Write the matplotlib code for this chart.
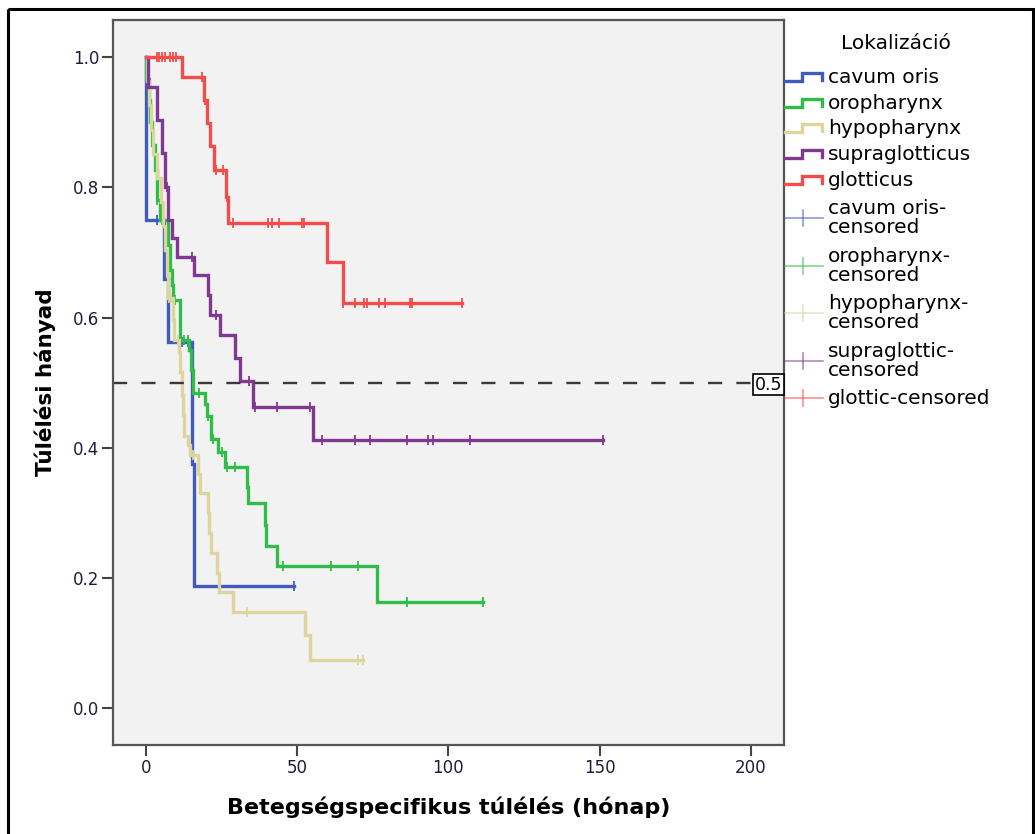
import numpy as np
import matplotlib
matplotlib.use('Agg')
import matplotlib.pyplot as plt
from matplotlib.patches import Rectangle
from matplotlib import transforms

# Kaplan-Meier lepcsok: esemeny idopontok (honap), tulelesi hanyad utana, cenzoralt idopontok
cavum_t = [0, 6.0, 7.3, 15.2, 16.0]
cavum_s = [0.75, 0.66, 0.5625, 0.375, 0.1875]
cavum_c = [3.5, 11.8, 14.0, 49.0]

oro_t = [0, 1.0, 1.5, 2.0, 3.0, 3.5, 4.8, 7.3, 7.8, 8.5, 9.0, 11.2, 14.2, 15.0, 15.5,
         19.5, 20.3, 21.5, 23.9, 26.1, 33.3, 33.8, 39.3, 39.8, 43.3, 76.4]
oro_s = [0.967, 0.934, 0.90, 0.865, 0.827, 0.781, 0.750, 0.712, 0.673, 0.650, 0.627, 0.566,
         0.551, 0.520, 0.485, 0.468, 0.449, 0.413, 0.394, 0.371, 0.340, 0.315, 0.282, 0.249,
         0.219, 0.164]
oro_c = [1.3, 3.6, 5.2, 9.6, 12.6, 13.9, 17.5, 20.6, 22.2, 25.0, 26.8, 29.4, 45.2, 61.2,
         70.1, 86.3, 111.5]

hypo_t = [0.5, 1.0, 1.6, 2.2, 3.5, 5.0, 5.8, 6.3, 6.8, 7.2, 8.9, 9.2, 10.8, 11.2, 12.0, 12.3,
          12.7, 13.8, 14.6, 17.2, 17.8, 20.6, 21.0, 21.4, 23.4, 24.2, 28.9, 52.6, 54.2]
hypo_s = [0.963, 0.926, 0.889, 0.852, 0.815, 0.778, 0.741, 0.704, 0.667, 0.630, 0.596, 0.566,
          0.548, 0.516, 0.482, 0.450, 0.418, 0.405, 0.389, 0.360, 0.331, 0.300, 0.270, 0.239,
          0.208, 0.179, 0.148, 0.113, 0.074]
hypo_c = [7.6, 8.3, 10.5, 15.5, 33.3, 70.2, 71.9]

supra_t = [0.8, 3.7, 5.2, 6.3, 7.3, 8.5, 10.2, 16.0, 20.4, 21.2, 24.5, 29.4, 31.1, 35.5, 55.3]
supra_s = [0.955, 0.904, 0.853, 0.801, 0.750, 0.722, 0.694, 0.666, 0.635, 0.604, 0.573, 0.538,
           0.502, 0.463, 0.412]
supra_c = [6.8, 15.1, 23.3, 34.1, 36.1, 43.2, 54.3, 58.1, 69.1, 74.1, 86.2, 93.2, 95.0,
           107.2, 151.3]

glott_t = [11.9, 19.2, 20.3, 21.2, 22.6, 26.5, 27.2, 59.8, 65.0]
glott_s = [0.969, 0.934, 0.899, 0.863, 0.827, 0.786, 0.746, 0.686, 0.623]
glott_c = [3.5, 4.4, 5.3, 6.3, 8.0, 8.9, 9.8, 18.4, 19.6, 23.0, 25.6, 26.8, 28.9, 40.5,
           41.6, 44.1, 51.5, 52.3, 65.3, 69.1, 72.1, 73.0, 77.2, 79.1, 87.3, 87.9, 104.4]

csoportok = ['cavum oris', 'oropharynx', 'hypopharynx', 'supraglotticus', 'glotticus']
cenz_cimkek = ['cavum oris-\ncensored', 'oropharynx-\ncensored', 'hypopharynx-\ncensored',
               'supraglottic-\ncensored', 'glottic-censored']
szinek = ['#3f5bbd', '#2fbd47', '#dcd59e', '#80398f', '#f44b4b']

adatok = [(cavum_t, cavum_s, cavum_c), (oro_t, oro_s, oro_c), (hypo_t, hypo_s, hypo_c),
          (supra_t, supra_s, supra_c), (glott_t, glott_s, glott_c)]

fig = plt.figure(figsize=(10.36, 8.34), dpi=100)
ax = fig.add_axes([113 / 1036, 1 - 745 / 834, 671 / 1036, 725 / 834])
ax.set_facecolor('#f2f2f2')

for (t, s, c), szin in zip(adatok, szinek):
    t = np.asarray(t, float)
    s = np.asarray(s, float)
    c = np.asarray(c, float)
    vege = max(t.max(), c.max())
    xs = np.r_[0, t, vege]
    ys = np.r_[1.0, s, s[-1]]
    ax.step(xs, ys, where='post', color=szin, lw=2.4, solid_joinstyle='miter')
    # cenzoralt esetek a gorbe aktualis szintjen
    szint = np.r_[1.0, s][np.searchsorted(t, c, side='right')]
    ax.plot(c, szint, ls='none', marker='|', ms=7.5, mew=1.3, color=szin)

# median referencia vonal
ax.plot([-10.9, 201.5], [0.5, 0.5], ls=(0, (6, 6)), color='#3a3a3a', lw=1.7)
trans = transforms.blended_transform_factory(ax.transAxes, ax.transData)
ax.text(0.997, 0.497, '0.5', transform=trans, ha='right', va='center', fontsize=12.5,
        bbox=dict(boxstyle='square,pad=0.1', fc='white', ec='black', lw=1.2))

ax.set_xlim(-10.9, 211.0)
ax.set_ylim(-0.0564, 1.0573)
ax.set_xticks([0, 50, 100, 150, 200])
ax.set_yticks([0.0, 0.2, 0.4, 0.6, 0.8, 1.0])
ax.set_yticklabels(['0.0', '0.2', '0.4', '0.6', '0.8', '1.0'])
ax.tick_params(length=8, width=1.5, color='#444444', labelsize=12, labelcolor='#1e1e3a', pad=2)
for sp in ax.spines.values():
    sp.set_color('#555555')
    sp.set_linewidth(1.6)

ax.set_xlabel('Betegségspecifikus túlélés (hónap)', fontsize=16, fontweight='bold', labelpad=14)
ax.set_ylabel('Túlélési hányad', fontsize=15.5, fontweight='bold', labelpad=12)

# jelmagyarazat kezzel, pixel koordinatakban
ov = fig.add_axes([0, 0, 1, 1])
ov.set_xlim(0, 1036)
ov.set_ylim(834, 0)
ov.axis('off')
ov.patch.set_alpha(0)

ov.text(896, 43, 'Lokalizáció', ha='center', va='center', fontsize=14.5)
for y, nev, szin in zip([77, 103, 128, 154, 180], csoportok, szinek):
    ov.plot([785, 802, 802, 821.5, 821.5], [y + 3.5, y + 3.5, y - 4.5, y - 4.5, y + 3],
            color=szin, lw=2.4, solid_joinstyle='miter')
    ov.text(828, y, nev, ha='left', va='center', fontsize=14.5)
for y, nev, szin in zip([218, 266, 313, 361, 398], cenz_cimkek, szinek):
    ov.plot([785, 823], [y, y], color=szin, lw=1.2, alpha=0.6)
    ov.plot([803, 803], [y - 8, y + 8], color=szin, lw=1.2, alpha=0.6)
    ov.text(828, y, nev, ha='left', va='center', fontsize=14.5, linespacing=0.95)

# keret a kep korul
ov.add_patch(Rectangle((8, 9), 1025, 840, fill=False, ec='black', lw=2.2, clip_on=False))

fig.savefig('out.png', dpi=100)
